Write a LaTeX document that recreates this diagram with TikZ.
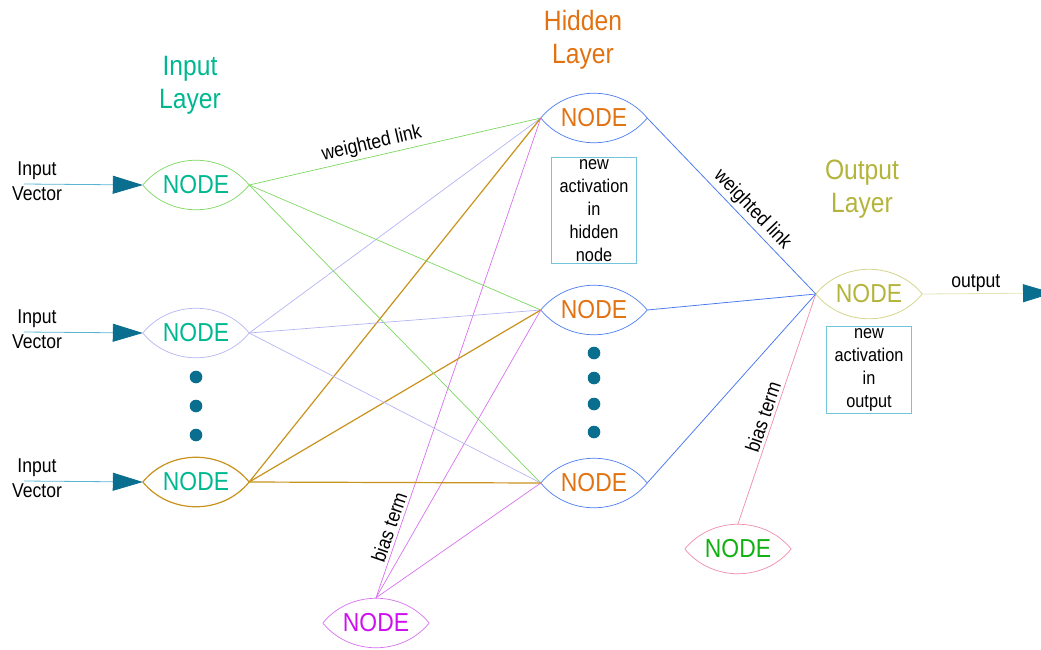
\documentclass[tikz,border=0pt]{standalone}
\usepackage{fontspec}
\setmainfont{Liberation Sans}[FakeStretch=0.88]
\usetikzlibrary{arrows.meta,positioning}
\definecolor{tealtext}{HTML}{00B890}
\definecolor{hidtext}{HTML}{E27211}
\definecolor{outtext}{HTML}{B4B43C}
\definecolor{magtext}{HTML}{CC11EE}
\definecolor{greentext}{HTML}{10B010}
\definecolor{linkgreen}{HTML}{7CD860}
\definecolor{linklav}{HTML}{B4B4F4}
\definecolor{linkgold}{HTML}{C8921C}
\definecolor{linkblue}{HTML}{4C7CF0}
\definecolor{linkmag}{HTML}{D870F0}
\definecolor{linkpink}{HTML}{F08CA8}
\definecolor{lensolive}{HTML}{D4D48C}
\definecolor{arrowteal}{HTML}{0A6E8E}
\definecolor{vecline}{HTML}{5AB4D4}
\definecolor{outwire}{HTML}{E4E4B4}
\definecolor{boxblue}{HTML}{74C4DC}
\newcommand{\nodefont}{\fontsize{26}{28}\selectfont}
\newcommand{\titlefont}{\fontsize{28}{33}\selectfont}
\newcommand{\vecfont}{\fontsize{20}{25}\selectfont}
\newcommand{\notefont}{\fontsize{18.5}{23}\selectfont}
\newcommand{\tagfont}{\fontsize{20}{22}\selectfont}

\begin{document}
\begin{tikzpicture}[x=1pt,y=-1pt,
  lens/.style={minimum width=106pt,minimum height=50pt,inner sep=0pt,font=\nodefont},
  wire/.style={line width=0.7pt},
  note/.style={draw=boxblue,line width=0.8pt,align=center,minimum width=85pt,inner sep=2pt,font=\notefont},
  tag/.style={font=\tagfont,sloped,above,inner sep=3pt},
  vec/.style={line width=0.8pt,-{Triangle[length=30pt,width=18pt,color=arrowteal]}}]
\useasboundingbox (0,0) rectangle (1041,649);
% layer titles
\node[font=\titlefont,text=tealtext,align=center] (intitle) at (190,85) {Input\\Layer};
\node[font=\titlefont,text=hidtext,align=center] (hidtitle) at (583,40) {Hidden\\Layer};
\node[font=\titlefont,text=outtext,align=center] (outtitle) at (862,189) {Output\\Layer};
% the nodes
\node[lens,text=tealtext] (in1) at (196,185) {NODE};
\node[lens,text=tealtext] (in2) at (196,333) {NODE};
\node[lens,text=tealtext] (in3) at (196,482) {NODE};
\node[lens,text=hidtext] (h1) at (594,118) {NODE};
\node[lens,text=hidtext] (h2) at (594,310) {NODE};
\node[lens,text=hidtext] (h3) at (594,483) {NODE};
\node[lens,text=outtext] (out) at (869,294) {NODE};
\node[lens,text=magtext] (b1) at (376,623) {NODE};
\node[lens,text=greentext] (b2) at (738,549) {NODE};
\foreach \n/\c/\w in {in1/linkgreen/0.7,in2/linklav/0.7,in3/linkgold/1.2,h1/linkblue/0.7,h2/linkblue/0.7,h3/linkblue/0.7,out/lensolive/0.8,b1/linkmag/0.7,b2/linkpink/0.7}
  \draw[\c,line width=\w pt] (\n.west) .. controls +(27,-33) and +(-27,-33) .. (\n.east)
    .. controls +(-27,33) and +(27,33) .. (\n.west);
% dots
\foreach \y in {377,406,435} \fill[arrowteal] (196,\y) circle (6.3pt);
\foreach \y in {353,378,404,432} \fill[arrowteal] (594,\y) circle (6.3pt);
% weighted links
\foreach \h in {h1,h2,h3}{
  \draw[wire,linkgreen] (in1.east) -- (\h.west);
  \draw[wire,linklav] (in2.east) -- (\h.west);
  \draw[line width=1.2pt,linkgold] (in3.east) -- (\h.west);
  \draw[wire,linkmag] (b1.north) -- (\h.west);
  \draw[line width=0.8pt,linkblue] (\h.east) -- (out.west);
}
\draw[wire,linkpink] (b2.north) -- (out.west);
\path (in1.east) -- node[tag,pos=0.43] {weighted link} (h1.west);
\path (h1.east) -- node[tag,pos=0.57] {weighted link} (out.west);
\path (b1.north) -- node[tag,pos=0.14] {bias term} (h1.west);
\path (b2.north) -- node[tag,pos=0.45] {bias term} (out.west);
% notes
\node[note,below=14pt of h1] (hnote) {new\\activation\\in\\hidden\\node};
\node[note,below=7pt of out] (onote) {new\\activation\\in\\output};
% input vectors and output
\foreach \i/\y in {1/184,2/332,3/481}{
  \node[font=\vecfont,align=center] (lab\i) at (37,\y-3) {Input\\Vector};
  \coordinate (v\i) at (24,\y);
  \draw[vec,vecline] (v\i) -- (in\i.west);
}
\coordinate (oend) at (1053,293);
\draw[vec,outwire] (out.east) -- node[font=\tagfont,text=black,above,pos=0.41,inner sep=2pt] (olab) {output} (oend);
\end{tikzpicture}
\end{document}
